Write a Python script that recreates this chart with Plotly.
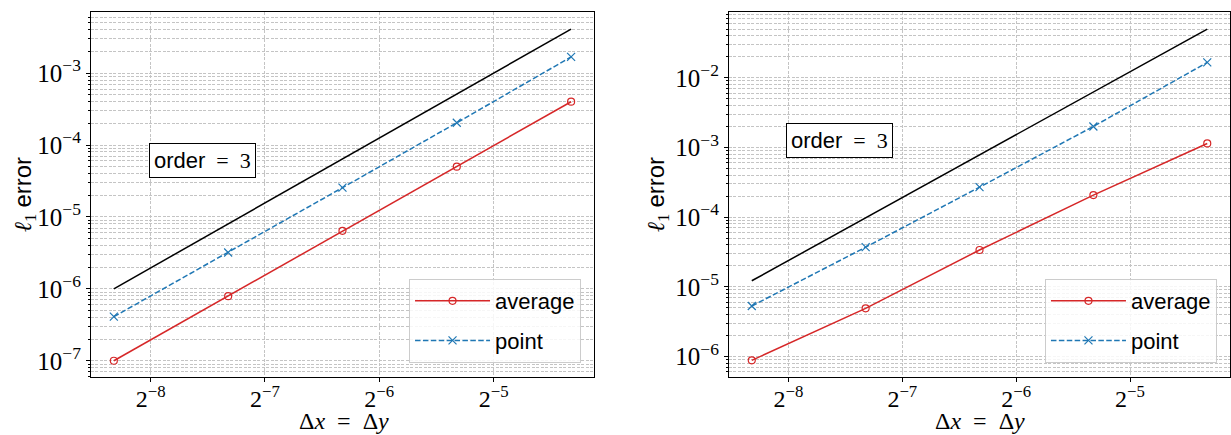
import plotly.graph_objects as go

# ---------------- data ----------------
dx = [1/320, 1/160, 1/80, 1/40, 1/20]

avg_left = [1.0e-7, 7.9e-7, 6.4e-6, 5.0e-5, 4.0e-4]
point_left = [4.1e-7, 3.2e-6, 2.55e-5, 2.04e-4, 1.68e-3]
ref_left = [1.0e-6, 8.0e-6, 6.4e-5, 5.12e-4, 4.096e-3]

avg_right = [8.8e-7, 4.9e-6, 3.37e-5, 2.07e-4, 1.14e-3]
point_right = [5.3e-6, 3.7e-5, 2.69e-4, 2.0e-3, 1.66e-2]
ref_right = [1.22e-5, 9.76e-5, 7.81e-4, 6.25e-3, 5.0e-2]

x_tick_vals = [2**-8, 2**-7, 2**-6, 2**-5]
x_tick_text = ["2<sup>−8</sup>", "2<sup>−7</sup>", "2<sup>−6</sup>", "2<sup>−5</sup>"]
y_tick_vals_left = [1e-7, 1e-6, 1e-5, 1e-4, 1e-3]
y_tick_text_left = ["10<sup>−7</sup>", "10<sup>−6</sup>", "10<sup>−5</sup>", "10<sup>−4</sup>", "10<sup>−3</sup>"]
y_tick_vals_right = [1e-6, 1e-5, 1e-4, 1e-3, 1e-2]
y_tick_text_right = ["10<sup>−6</sup>", "10<sup>−5</sup>", "10<sup>−4</sup>", "10<sup>−3</sup>", "10<sup>−2</sup>"]

series_names = ["average", "point"]
annotation_text = "order<span style='font-family:Liberation Serif'>\u2002=\u20023</span>"

# ---------------- style ----------------
RED = "#d62728"
BLUE = "#1f77b4"
GRID = "#c4c4c4"
SERIF = "Liberation Serif"
SANS = "Liberation Sans"
minor_y = [m * 10.0**k for k in range(-9, 1) for m in range(2, 10)]

fig = go.Figure()

def add_panel(xa, ya, legend, avg, pt, ref):
    fig.add_trace(go.Scatter(x=dx, y=ref, mode="lines", line=dict(color="black", width=1.5),
                             showlegend=False, xaxis=xa, yaxis=ya, hoverinfo="skip"))
    fig.add_trace(go.Scatter(x=dx, y=avg, mode="lines+markers", name=series_names[0],
                             line=dict(color=RED, width=1.5),
                             marker=dict(symbol="circle-open", size=7, color=RED, line=dict(width=1.2, color=RED)),
                             legend=legend, legendgroup=legend + "a", xaxis=xa, yaxis=ya))
    fig.add_trace(go.Scatter(x=dx, y=pt, mode="lines+markers", name=series_names[1],
                             line=dict(color=BLUE, width=1.5, dash="5.5px,2.4px"),
                             marker=dict(symbol="x-thin", size=8, color=BLUE, line=dict(width=1.2, color=BLUE)),
                             legend=legend, legendgroup=legend + "b", xaxis=xa, yaxis=ya))

add_panel("x", "y", "legend", avg_left, point_left, ref_left)
add_panel("x2", "y2", "legend2", avg_right, point_right, ref_right)

def xaxis_cfg(domain, anchor):
    return dict(domain=domain, anchor=anchor, type="log",
                range=[-8.522 * 0.30103, -4.122 * 0.30103],
                tickmode="array", tickvals=x_tick_vals, ticktext=x_tick_text,
                ticks="outside", ticklen=4, tickwidth=1, tickcolor="black",
                ticklabelstandoff=-4,
                showline=True, linecolor="black", linewidth=1, mirror=True,
                showgrid=True, gridcolor=GRID, griddash="3px,1.5px", gridwidth=0.8,
                tickfont=dict(family=SERIF, size=24, color="black"), zeroline=False)

def yaxis_cfg(domain, anchor, rng, tv, tt):
    return dict(domain=domain, anchor=anchor, type="log", range=rng,
                tickmode="array", tickvals=tv, ticktext=tt,
                ticks="outside", ticklen=4, tickwidth=1, tickcolor="black",
                showline=True, linecolor="black", linewidth=1, mirror=True,
                showgrid=True, gridcolor=GRID, griddash="3px,1.5px", gridwidth=0.8,
                minor=dict(tickmode="array", tickvals=minor_y, ticks="outside", ticklen=2,
                           tickcolor="black", showgrid=True, gridcolor=GRID,
                           griddash="3px,1.5px", gridwidth=0.8),
                tickfont=dict(family=SERIF, size=25, color="black"), zeroline=False)

legend_style = dict(bgcolor="rgba(255,255,255,0.85)", bordercolor="#cccccc", borderwidth=1,
                    font=dict(family=SANS, size=22, color="black"),
                    tracegroupgap=8, itemwidth=75, xanchor="right", yanchor="bottom")

ylabel = "<i>ℓ</i><sub>1</sub> <span style='font-family:Liberation Sans'>error</span>"
xlabel = "Δ<i>x</i>\u2002=\u2002Δ<i>y</i>"

def ann(text, xref, yref, x, y, size, family, angle=0, box=False):
    d = dict(text=text, xref=xref, yref=yref, x=x, y=y, xanchor="center", yanchor="middle",
             showarrow=False, textangle=angle, font=dict(family=family, size=size, color="black"))
    if box:
        d.update(bordercolor="black", borderwidth=1, borderpad=4, bgcolor="white")
    return d

fig.update_layout(
    width=1231, height=435,
    margin=dict(l=0, r=0, t=0, b=0),
    paper_bgcolor="white", plot_bgcolor="white",
    xaxis=xaxis_cfg([0.0739, 0.4825], "y"),
    yaxis=yaxis_cfg([0.1333, 0.9713], "x", [-7.226, -2.157], y_tick_vals_left, y_tick_text_left),
    xaxis2=xaxis_cfg([0.5922, 0.9992], "y2"),
    yaxis2=yaxis_cfg([0.1333, 0.9713], "x2", [-6.295, -1.063], y_tick_vals_right, y_tick_text_right),
    legend=dict(x=0.472, y=0.1655, **legend_style),
    legend2=dict(x=0.9886, y=0.1655, **legend_style),
    annotations=[
        ann(annotation_text, "x domain", "y domain", 0.2217, 0.595, 22, SANS, box=True),
        ann(annotation_text, "x2 domain", "y2 domain", 0.2196, 0.649, 22, SANS, box=True),
        ann(ylabel, "paper", "paper", 24/1231, 1-195/435, 24, SERIF, angle=-90),
        ann(ylabel, "paper", "paper", 657/1231, 1-195/435, 24, SERIF, angle=-90),
        ann(xlabel, "paper", "paper", 344/1231, 1-421/435, 24, SERIF),
        ann(xlabel, "paper", "paper", 980/1231, 1-421/435, 24, SERIF),
    ],
)

fig.write_html("out.html", config={"displayModeBar": False},
               post_script="document.body.style.margin='0';document.body.style.overflow='hidden';")
